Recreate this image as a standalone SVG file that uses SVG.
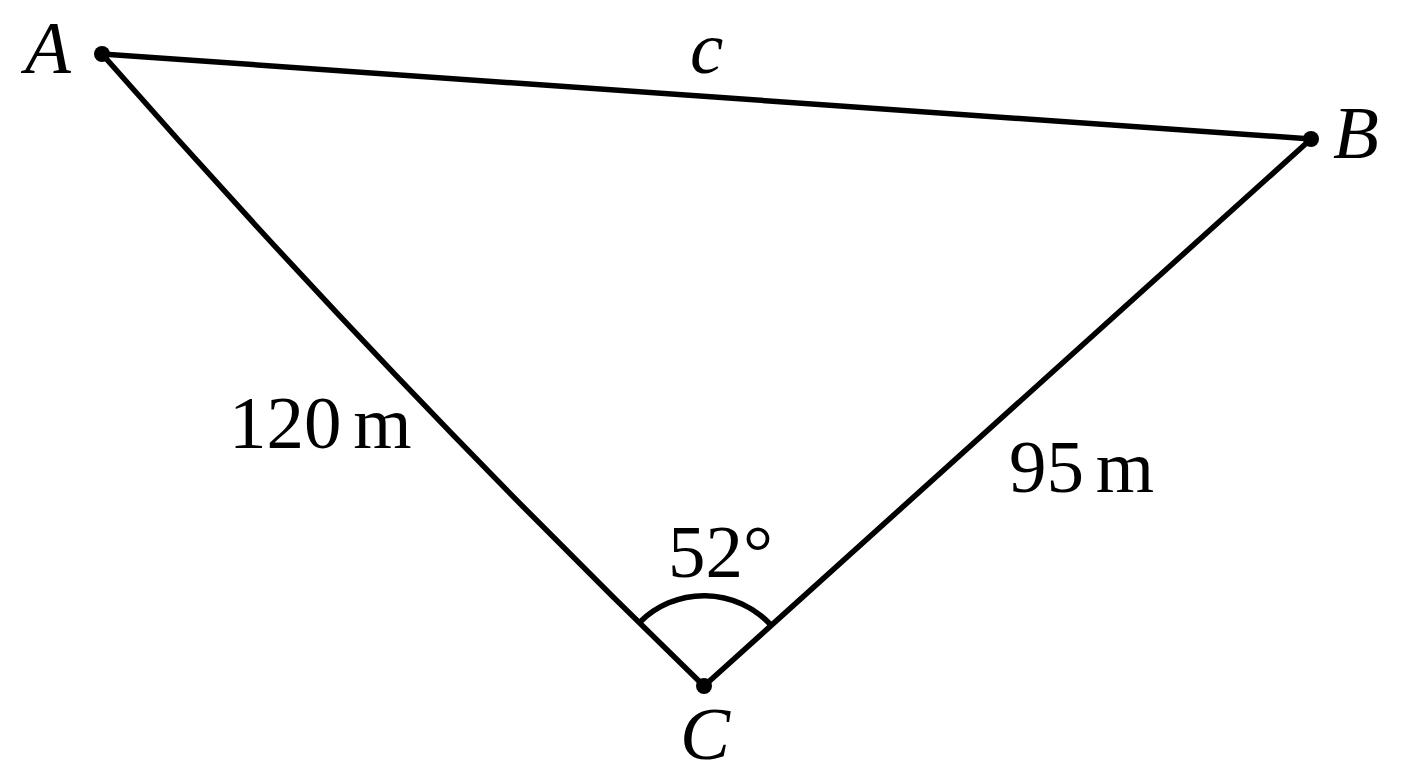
<svg xmlns="http://www.w3.org/2000/svg" width="1408" height="768" viewBox="0 0 1408 768">
<style>
.e{fill:none;stroke:#000;stroke-width:5.5;stroke-linecap:round}
.d{fill:#000}
.t{font-family:"Liberation Serif","Times New Roman",serif;font-size:75px;fill:#000}
.i{font-style:italic}
</style>
<rect width="1408" height="768" fill="#fff"/>
<g id="connectors">
<line class="e" x1="102" y1="54" x2="1311" y2="139"/>
<path class="e" d="M102,54 Q390,382 704,686"/>
<line class="e" x1="704" y1="686" x2="1311" y2="139"/>
<path class="e" d="M640,622 A91,91 0 0 1 770,624"/>
</g>
<g id="A"><circle class="d" cx="102" cy="54" r="8"/><text class="t i" x="25" y="73">A</text></g>
<g id="B"><circle class="d" cx="1311" cy="139" r="8"/><text class="t i" x="1333" y="158">B</text></g>
<g id="C"><circle class="d" cx="704" cy="686" r="8"/><text class="t i" x="680" y="759">C</text></g>
<g id="labels">
<text class="t i" x="690" y="73">c</text>
<text class="t" x="229" y="448" word-spacing="-7">120 m</text>
<text class="t" x="1009" y="492" word-spacing="-7">95 m</text>
<text class="t" x="668" y="577">52°</text>
</g>
</svg>
